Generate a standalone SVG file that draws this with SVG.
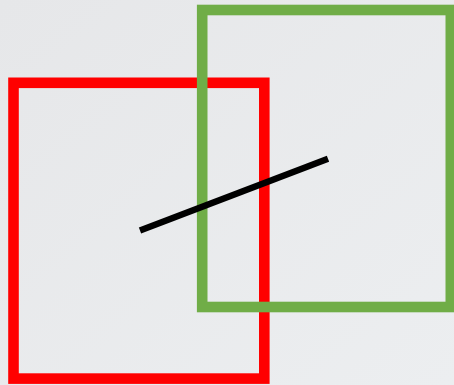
<svg xmlns="http://www.w3.org/2000/svg" width="454" height="385" viewBox="0 0 454 385">
  <defs>
    <linearGradient id="bg" x1="0" y1="0" x2="1" y2="1">
      <stop offset="0" stop-color="#e6e7e9"/>
      <stop offset="1" stop-color="#eceef0"/>
    </linearGradient>
    <style>
      .box { fill: none; }
      .red { stroke: #ff0000; stroke-width: 10.6; }
      .green { stroke: #70ad47; stroke-width: 10.6; }
      .line { stroke: #000000; stroke-width: 6.5; stroke-linecap: butt; }
    </style>
  </defs>
  <rect x="0" y="0" width="454" height="385" fill="url(#bg)"/>
  <g id="red-square">
    <rect class="box red" x="13.5" y="82.8" width="250.8" height="295.8"/>
  </g>
  <g id="green-square">
    <rect class="box green" x="202.2" y="10" width="248.6" height="297"/>
  </g>
  <g id="connectors">
    <line class="line" x1="140" y1="230.5" x2="328" y2="158.7"/>
  </g>
</svg>
